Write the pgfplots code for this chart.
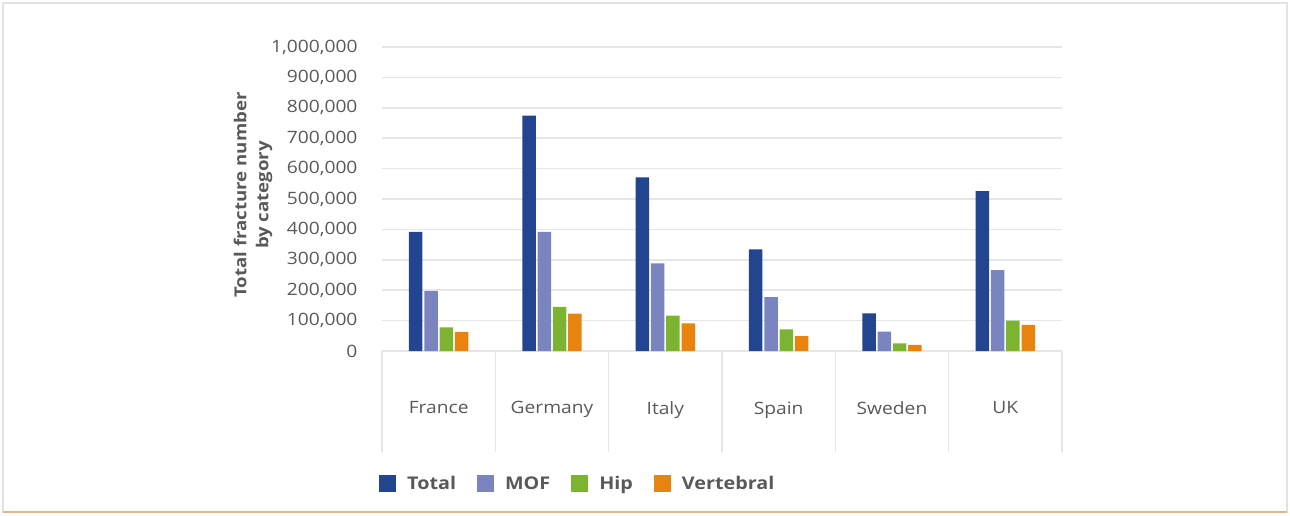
\documentclass[border=0pt]{standalone}
\usepackage{fontspec}
\setmainfont{Open Sans}[FakeStretch=1.13]
\usepackage{pgfplots}
\pgfplotsset{compat=1.18}
\definecolor{cTotal}{HTML}{23458F}
\definecolor{cMOF}{HTML}{7A84BF}
\definecolor{cHip}{HTML}{7CB431}
\definecolor{cVert}{HTML}{E9830F}
\definecolor{txt}{HTML}{595959}
\definecolor{gridc}{HTML}{E6E6E6}
\definecolor{framec}{HTML}{E3E3E3}
\definecolor{framebot}{HTML}{E2B887}
\begin{document}
\begin{tikzpicture}
\path[use as bounding box] (-382pt,-164pt) rectangle (908pt,351pt);
\draw[framec, line width=1.5pt] (-379pt,-161pt) rectangle (905pt,348pt);
\draw[framebot, line width=2pt] (-379pt,-161pt) -- (905pt,-161pt);
\begin{axis}[
  at={(0pt,0pt)}, anchor=south west,
  scale only axis, width=680pt, height=304pt,
  clip=false,
  ybar=1.8pt, bar width=13.5pt,
  xmin=-0.5, xmax=5.5, ymin=0, ymax=1000000,
  ytick={0,100000,...,1000000},
  scaled y ticks=false,
  /pgf/number format/.cd, fixed, 1000 sep={,}, assume math mode=true, /pgfplots/.cd,
  xtick={0,1,2,3,4,5},
  xticklabels={France,Germany,Italy,Spain,Sweden,UK},
  minor xtick={-0.5,0.5,1.5,2.5,3.5,4.5,5.5},
  axis x line*=bottom, axis y line*=left,
  y axis line style={draw=none},
  x axis line style={draw=gridc, line width=1.5pt},
  ymajorgrids, grid style={draw=gridc, line width=1.5pt},
  major tick length=0pt,
  minor tick length=101pt,
  tick align=outside,
  minor x tick style={draw=gridc, line width=1.2pt},
  ytick style={draw=none},
  xtick style={draw=none},
  tick label style={font=\fontsize{17}{20}\selectfont, text=txt},
  yticklabel style={anchor=east, xshift=-21pt},
  xticklabel style={anchor=north, yshift=-47pt},
  legend style={at={(rel axis cs:0,0)}, anchor=west, xshift=-6pt, yshift=-133pt,
    draw=none, fill=none, font=\bfseries\fontsize{17.5}{20}\selectfont, text=txt,
    legend columns=-1,
    /tikz/every even column/.append style={column sep=19pt}},
  legend image code/.code={\fill[#1] (0pt,-8pt) rectangle (17pt,9pt); \path (26pt,0pt);},
  legend cell align=left,
]
\addplot[fill=cTotal, draw=none] coordinates {(0,392000) (1,774000) (2,571000) (3,334000) (4,124000) (5,526000)};
\addplot[fill=cMOF, draw=none] coordinates {(0,197000) (1,392000) (2,288000) (3,177000) (4,64000) (5,266000)};
\addplot[fill=cHip, draw=none] coordinates {(0,78000) (1,145000) (2,116000) (3,71000) (4,25000) (5,100000)};
\addplot[fill=cVert, draw=none] coordinates {(0,63000) (1,123000) (2,91000) (3,49000) (4,20000) (5,86000)};
\legend{Total,MOF,Hip,Vertebral}
\node[rotate=90, anchor=center, align=center, font=\bfseries\fontsize{16.5}{22}\selectfont, text=txt]
  at ([xshift=-129pt, yshift=4pt]rel axis cs:0,0.5) {Total fracture number\\by category};
\end{axis}
\end{tikzpicture}
\end{document}
